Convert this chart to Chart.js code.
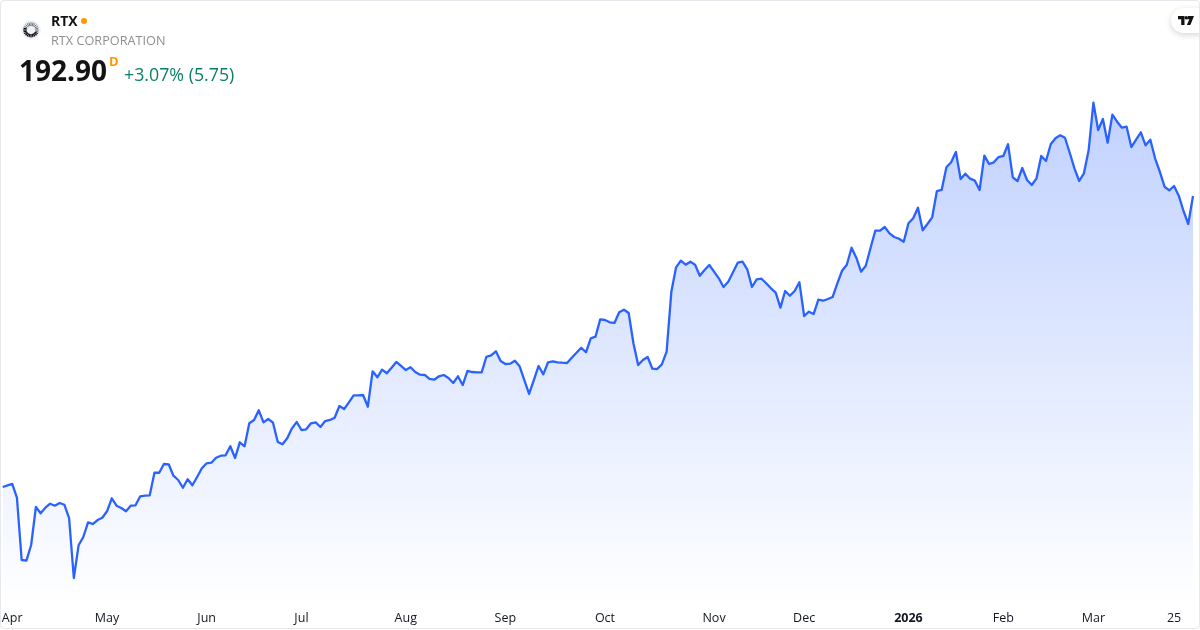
<!DOCTYPE html>
<html>
<head>
<meta charset="utf-8">
<script src="https://cdn.jsdelivr.net/npm/chart.js@4/dist/chart.umd.min.js"></script>
<style>
  html, body { margin: 0; padding: 0; background: #fff; }
  #wrap { position: relative; width: 1200px; height: 630px; overflow: hidden; font-family: "Open Sans", sans-serif; }
  canvas { position: absolute; left: 0; top: 0; }
  #frame { position: absolute; left: 0; top: 0; width: 1198px; height: 627px; border: 1px solid #e6e8ee; border-radius: 4px; pointer-events: none; }
  .t { position: absolute; white-space: nowrap; line-height: 1; }
  #sym { left: 51px; top: 14px; font-size: 14px; font-weight: 700; color: #131313; }
  #dot { position: absolute; left: 81px; top: 18px; width: 6px; height: 6px; border-radius: 50%; background: #ff9800; }
  #name { left: 51px; top: 33.5px; font-size: 12.7px; color: #8f8f8f; }
  #price { left: 19px; top: 56px; font-size: 28px; font-weight: 700; color: #131313; }
  #flag { left: 109px; top: 55px; font-size: 13px; font-weight: 700; color: #ff9800; }
  #chg { left: 124px; top: 66px; font-size: 17.8px; color: #0b8068; }
  #logo { position: absolute; left: 21px; top: 20px; }
  #tv { position: absolute; left: 1171px; top: 8px; width: 40px; height: 25px; border-radius: 13px; background: #fff; box-shadow: 0 2px 6px rgba(0,0,0,0.16); }
  #tv svg { position: absolute; left: 7px; top: 8px; }
</style>
</head>
<body>
<div id="wrap">
  <canvas id="rtxChart" width="1200" height="630"></canvas>
  <svg id="logo" width="20" height="20" viewBox="0 0 20 20"></svg>
  <div class="t" id="sym">RTX</div>
  <div id="dot"></div>
  <div class="t" id="name">RTX CORPORATION</div>
  <div class="t" id="price">192.90</div>
  <div class="t" id="flag">D</div>
  <div class="t" id="chg">+3.07% (5.75)</div>
  <div id="tv">
    <svg width="16" height="9" viewBox="0 0 16 9"><path d="M0 0h6.5v9H3.2V3.2H0z M10 0H16l-3.6 9H8.8l2.6-5.8H9z" fill="#131313"/><circle cx="8.2" cy="1.7" r="1.7" fill="#131313"/></svg>
  </div>
  <div id="frame"></div>
</div>
<script>
  // daily closes, Apr 2025 to Mar 2026
  const closes = [
    133.15, 133.50, 133.77, 130.95, 118.16, 118.02, 121.24, 129.04, 127.75, 128.90,
    129.72, 129.31, 129.86, 129.51, 126.78, 114.46, 121.18, 122.88, 125.90, 125.55,
    126.37, 126.84, 128.16, 130.83, 129.31, 128.84, 128.16, 129.31, 129.39, 131.24,
    131.36, 131.44, 136.08, 136.08, 137.87, 137.81, 135.47, 134.59, 133.00, 134.73,
    133.50, 135.20, 136.99, 138.02, 138.14, 139.16, 139.58, 139.66, 141.51, 139.10,
    142.33, 141.51, 146.23, 146.91, 148.90, 146.43, 147.11, 146.35, 142.39, 141.92,
    143.15, 145.20, 146.50, 144.85, 145.00, 146.23, 146.43, 145.47, 146.70, 146.91,
    147.38, 149.78, 149.17, 150.54, 151.98, 151.98, 152.04, 149.64, 156.91, 155.68,
    157.24, 156.50, 157.65, 158.82, 158.00, 157.17, 157.73, 156.76, 156.21, 156.15,
    155.33, 155.18, 155.88, 156.15, 155.53, 154.50, 155.88, 154.09, 156.97, 156.76,
    156.70, 156.70, 159.90, 160.19, 161.01, 159.02, 158.41, 158.47, 159.08, 157.93,
    155.12, 152.25, 155.12, 158.00, 156.29, 158.76, 158.96, 158.76, 158.67, 158.61,
    159.70, 160.73, 161.75, 160.81, 163.68, 164.01, 167.58, 167.44, 166.97, 166.83,
    169.02, 169.56, 168.88, 162.66, 158.20, 159.23, 159.84, 157.44, 157.38, 158.34,
    160.93, 173.25, 178.26, 179.62, 178.80, 179.41, 178.80, 176.54, 177.71, 178.73,
    177.36, 176.00, 174.22, 175.31, 177.24, 179.21, 179.41, 177.85, 174.22, 175.80,
    175.92, 174.98, 173.95, 173.05, 169.97, 173.40, 172.43, 173.40, 175.18, 168.26,
    169.15, 168.67, 171.61, 171.40, 171.75, 172.16, 174.98, 177.56, 178.80, 182.29,
    180.23, 177.36, 178.59, 182.23, 185.78, 185.78, 186.54, 185.24, 184.48, 184.13,
    183.52, 187.30, 188.32, 190.50, 185.86, 187.15, 188.53, 193.93, 194.14, 198.80,
    199.82, 201.94, 196.39, 197.48, 196.46, 196.05, 194.14, 201.18, 199.47, 199.82,
    200.91, 201.12, 203.52, 196.74, 195.98, 198.65, 196.19, 195.16, 196.54, 201.12,
    200.09, 203.52, 204.75, 205.37, 204.87, 201.79, 198.59, 195.98, 197.56, 202.35,
    212.06, 206.46, 208.71, 203.85, 209.60, 208.16, 206.93, 207.13, 202.96, 204.46,
    205.98, 203.31, 204.46, 200.64, 197.89, 194.81, 194.07, 194.96, 192.97, 189.82,
    187.15, 192.90,
  ];

  // where the month labels sit along the days
  const tickIndexes = [2, 22, 43, 63, 85, 106, 127, 150, 169, 191, 211, 230, 247];
  const tickLabels = ["Apr", "May", "Jun", "Jul", "Aug", "Sep", "Oct", "Nov", "Dec", "2026", "Feb", "Mar", "25"];

  // little sunburst mark for the symbol
  const logo = document.getElementById("logo");
  let logoHtml = '<circle cx="10" cy="10" r="10" fill="#f0f3fa"/>';
  for (let a = 0; a < 360; a += 15) {
    const r = (a * Math.PI) / 180;
    const heavy = a < 200 && a > 20;
    const x1 = 10 + Math.cos(r) * 4.4;
    const y1 = 10 + Math.sin(r) * 4;
    const x2 = 10 + Math.cos(r) * 7.8;
    const y2 = 10 + Math.sin(r) * (heavy ? 7.4 : 7.8);
    logoHtml += `<line x1="${x1}" y1="${y1}" x2="${x2}" y2="${y2}" stroke="#131313" stroke-width="${heavy ? 1.3 : 0.6}"/>`;
  }
  logo.innerHTML = logoHtml;

  new Chart(document.getElementById("rtxChart"), {
    type: "line",
    data: {
      labels: closes.map((_, i) => i),
      datasets: [
        {
          data: closes,
          borderColor: "#2962ff",
          borderWidth: 2.3,
          borderJoinStyle: "round",
          pointRadius: 0,
          tension: 0,
          fill: "start",
          backgroundColor: (ctx) => {
            const area = ctx.chart.chartArea;
            if (!area) return "transparent";
            const g = ctx.chart.ctx.createLinearGradient(0, 102, 0, area.bottom);
            g.addColorStop(0, "rgba(41,98,255,0.29)");
            g.addColorStop(1, "rgba(41,98,255,0)");
            return g;
          },
        },
      ],
    },
    options: {
      responsive: false,
      animation: false,
      layout: { padding: { left: 2.7, right: 7, top: 0, bottom: 0 } },
      plugins: { legend: { display: false }, tooltip: { enabled: false } },
      scales: {
        x: {
          // tick padding also widens the plot sideways, so the gap comes from tickLength
          grid: { display: false, drawTicks: true, tickLength: 6 },
          border: { display: false },
          afterFit: (scale) => {
            scale.height = 25;
          },
          ticks: {
            autoSkip: false,
            maxRotation: 0,
            minRotation: 0,
            padding: 0,
            color: "#131722",
            font: (ctx) => ({
              family: "Open Sans",
              size: 12.5,
              weight: ctx.tick && tickLabels[tickIndexes.indexOf(ctx.tick.value)] === "2026" ? "700" : "400",
            }),
            callback: (value) => {
              const k = tickIndexes.indexOf(value);
              return k >= 0 ? tickLabels[k] : "";
            },
          },
        },
        y: { display: false, min: 108.92, max: 233.15 },
      },
    },
  });
</script>
</body>
</html>
